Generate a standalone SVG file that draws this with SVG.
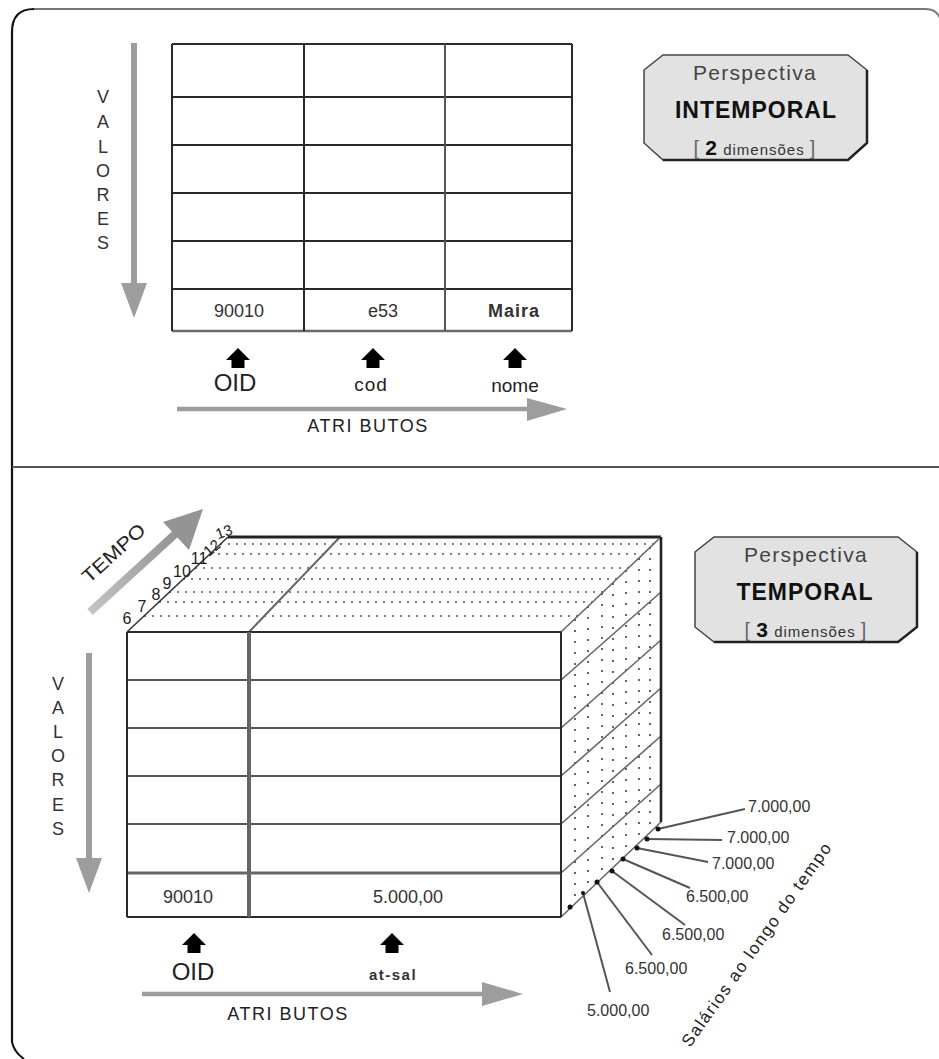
<svg xmlns="http://www.w3.org/2000/svg" width="939" height="1059" viewBox="0 0 939 1059">
  <defs>
    <style>
      text { font-family: "Liberation Sans", Arial, sans-serif; }
      .cell { font-size: 18px; fill: #333; text-anchor: middle; }
      .lbl { font-size: 19px; fill: #222; text-anchor: middle; }
      .axis { font-size: 18px; fill: #222; text-anchor: middle; }
      .vert { font-size: 18px; fill: #333; text-anchor: middle; }
      .grid { stroke: #2a2a2a; stroke-width: 2; fill: none; }
      .grid-g { stroke: #555; stroke-width: 2; fill: none; }
      .shaft { stroke: #9d9d9d; fill: none; }
      .head { fill: #9d9d9d; }
      .dot-h { stroke: #555; stroke-width: 1.6; stroke-dasharray: 2 6; fill: none; }
      .dot-v { stroke: #555; stroke-width: 1.8; stroke-dasharray: 2 9; fill: none; }
      .diag { stroke: #666; stroke-width: 1.6; fill: none; }
      .call { stroke: #555; stroke-width: 2; fill: none; }
      .num { font-size: 16px; fill: #333; }
      .digit { font-size: 16px; fill: #222; text-anchor: middle; }
      .badge { fill: #e2e2e2; stroke: #444; stroke-width: 1.5; }
      .badge-sh { fill: none; stroke: #222; stroke-width: 2.5; }
    </style>
    <linearGradient id="tempoGrad" x1="0" y1="1" x2="1" y2="0">
      <stop offset="0" stop-color="#c4c4c4"/>
      <stop offset="1" stop-color="#8f8f8f"/>
    </linearGradient>
    <!-- small solid up-pointing block arrow -->
    <path id="up" d="M0,0 L12,12 L6.5,12 L6.5,20 L-6.5,20 L-6.5,12 L-12,12 Z" fill="#000"/>
  </defs>

  <rect width="939" height="1059" fill="#fff"/>

  <!-- outer frame -->
  <g id="frame">
    <path d="M12,1042 L12,32 Q12,9 34,9" fill="none" stroke="#111" stroke-width="2.2"/>
    <path d="M34,9 L926,9 Q936,9 940,18" fill="none" stroke="#777" stroke-width="2"/>
    <path d="M12,1042 Q14,1052 24,1059" fill="none" stroke="#111" stroke-width="2"/>
    <line x1="12" y1="467" x2="939" y2="467" stroke="#555" stroke-width="1.8"/>
  </g>

  <!-- ===== upper panel: two-dimensional table ===== -->
  <g id="table2d">
    <rect x="172" y="44" width="400" height="287" fill="#fff"/>
    <line class="grid" x1="172" y1="44" x2="572" y2="44"/>
    <line class="grid" x1="172" y1="97" x2="572" y2="97"/>
    <line class="grid" x1="172" y1="145" x2="572" y2="145"/>
    <line class="grid" x1="172" y1="193" x2="572" y2="193"/>
    <line class="grid" x1="172" y1="241" x2="572" y2="241"/>
    <line class="grid" x1="172" y1="289" x2="572" y2="289"/>
    <line x1="172" y1="331" x2="572" y2="331" stroke="#6a6a6a" stroke-width="2.6"/>
    <line class="grid" x1="172" y1="44" x2="172" y2="331"/>
    <line class="grid" x1="304" y1="44" x2="304" y2="331"/>
    <line class="grid-g" x1="445" y1="44" x2="445" y2="331"/>
    <line class="grid" x1="572" y1="44" x2="572" y2="331"/>
    <text class="cell" x="239" y="317">90010</text>
    <text class="cell" x="383" y="317">e53</text>
    <text class="cell" x="514" y="317" style="letter-spacing:1px;font-weight:bold;fill:#333">Maira</text>
  </g>

  <g id="valores-top">
    <line class="shaft" x1="134" y1="43" x2="134" y2="290" stroke-width="6"/>
    <polygon class="head" points="121,283 147,283 134,318"/>
    <text class="vert" x="103" y="103">V</text>
    <text class="vert" x="103" y="128">A</text>
    <text class="vert" x="103" y="153">L</text>
    <text class="vert" x="103" y="177">O</text>
    <text class="vert" x="103" y="201">R</text>
    <text class="vert" x="103" y="225">E</text>
    <text class="vert" x="103" y="249">S</text>
  </g>

  <g id="attrs-top">
    <use href="#up" x="238" y="348"/>
    <use href="#up" x="373" y="348"/>
    <use href="#up" x="515" y="348"/>
    <text class="lbl" x="235" y="391" style="font-size:24px">OID</text>
    <text class="lbl" x="371" y="391" style="font-size:19px;letter-spacing:1px">cod</text>
    <text class="lbl" x="515" y="392" style="font-size:19px">nome</text>
    <line class="shaft" x1="177" y1="409" x2="535" y2="409" stroke-width="4.5"/>
    <polygon class="head" points="527,398 567,409 527,421"/>
    <text class="axis" x="368" y="432" style="letter-spacing:1.5px">ATRI BUTOS</text>
  </g>

  <g id="badge-intemporal">
    <polygon class="badge" points="663,55 848,55 867,70 867,143 848,160 663,160 644,143 644,70"/>
    <polyline class="badge-sh" points="867,70 867,143 848,160 663,160"/>
    <text x="755" y="80" text-anchor="middle" style="font-size:21px;fill:#444;letter-spacing:1.3px">Perspectiva</text>
    <text x="756" y="118" text-anchor="middle" style="font-size:23px;font-weight:bold;fill:#111;letter-spacing:1px">INTEMPORAL</text>
    <text x="755" y="155" text-anchor="middle" style="font-size:15px;fill:#333;letter-spacing:1px"><tspan style="font-size:20px;fill:#666">[</tspan> <tspan style="font-size:21px;font-weight:bold;fill:#111">2</tspan> dimensões <tspan style="font-size:20px;fill:#666">]</tspan></text>
  </g>

  <!-- ===== lower panel: three-dimensional block ===== -->
  <g id="block-top">
    <polygon points="127,632 228,537 661,537 561,632" fill="#fff"/>
    <line class="dot-h" x1="220" y1="544" x2="654" y2="544"/>
    <line class="dot-h" x1="210" y1="554" x2="643" y2="554"/>
    <line class="dot-h" x1="195" y1="568" x2="628" y2="568"/>
    <line class="dot-h" x1="183" y1="579" x2="617" y2="579"/>
    <line class="dot-h" x1="169" y1="592" x2="603" y2="592"/>
    <line class="dot-h" x1="159" y1="602" x2="593" y2="602"/>
    <line class="dot-h" x1="144" y1="616" x2="578" y2="616"/>
    <line x1="127" y1="632" x2="228" y2="537" stroke="#333" stroke-width="1.6"/>
    <line x1="249" y1="632" x2="340" y2="537" stroke="#666" stroke-width="2"/>
    <line x1="228" y1="537" x2="661" y2="537" stroke="#222" stroke-width="3"/>
  </g>

  <g id="block-side">
    <line class="dot-v" x1="575" y1="619" x2="575" y2="904"/>
    <line class="dot-v" x1="588" y1="606" x2="588" y2="891"/>
    <line class="dot-v" x1="602" y1="593" x2="602" y2="878"/>
    <line class="dot-v" x1="613" y1="583" x2="613" y2="868"/>
    <line class="dot-v" x1="626" y1="570" x2="626" y2="855"/>
    <line class="dot-v" x1="639" y1="558" x2="639" y2="843"/>
    <line class="dot-v" x1="650" y1="547" x2="650" y2="832"/>
    <line class="diag" x1="561" y1="632" x2="661" y2="537"/>
    <line class="diag" x1="561" y1="680" x2="661" y2="592"/>
    <line class="diag" x1="561" y1="728" x2="661" y2="640"/>
    <line class="diag" x1="561" y1="776" x2="661" y2="688"/>
    <line class="diag" x1="561" y1="824" x2="661" y2="736"/>
    <line class="diag" x1="561" y1="873" x2="661" y2="784"/>
    <line class="diag" x1="561" y1="917" x2="661" y2="822"/>
    <line x1="661" y1="537" x2="661" y2="822" stroke="#222" stroke-width="2.6"/>
  </g>

  <g id="block-front">
    <rect x="127" y="632" width="434" height="285" fill="#fff"/>
    <line class="grid" x1="127" y1="632" x2="561" y2="632"/>
    <line class="grid-g" x1="127" y1="680" x2="561" y2="680"/>
    <line class="grid-g" x1="127" y1="728" x2="561" y2="728"/>
    <line class="grid-g" x1="127" y1="776" x2="561" y2="776"/>
    <line class="grid-g" x1="127" y1="824" x2="561" y2="824"/>
    <line x1="127" y1="873" x2="561" y2="873" stroke="#666" stroke-width="3"/>
    <line class="grid" x1="127" y1="917" x2="561" y2="917"/>
    <line class="grid" x1="127" y1="632" x2="127" y2="917"/>
    <line x1="249" y1="632" x2="249" y2="917" stroke="#666" stroke-width="4"/>
    <line class="grid" x1="561" y1="632" x2="561" y2="917"/>
    <text class="cell" x="188" y="903">90010</text>
    <text class="cell" x="408" y="903">5.000,00</text>
  </g>

  <g id="tempo">
    <line x1="90" y1="612" x2="184" y2="526" stroke="url(#tempoGrad)" stroke-width="8"/>
    <polygon points="203,509 163,522 189,550" fill="#949494"/>
    <text x="118" y="558" transform="rotate(-42 118 558)" text-anchor="middle" textLength="78" lengthAdjust="spacingAndGlyphs" style="font-size:19px;fill:#222">TEMPO</text>
    <text class="digit" x="127" y="624">6</text>
    <text class="digit" x="142" y="612">7</text>
    <text class="digit" x="156" y="600">8</text>
    <text class="digit" x="167" y="589">9</text>
    <text class="digit" x="182" y="577">10</text>
    <text class="digit" x="199" y="564">11</text>
    <text class="digit" x="212" y="553" transform="rotate(-40 212 548)" style="font-size:15px">12</text>
    <text class="digit" x="224" y="537" transform="rotate(-20 224 532)" style="font-size:15px">13</text>
  </g>

  <g id="valores-bottom">
    <line class="shaft" x1="89" y1="653" x2="89" y2="866" stroke-width="6"/>
    <polygon class="head" points="76,858 102,858 89,893"/>
    <text class="vert" x="58" y="690">V</text>
    <text class="vert" x="58" y="714">A</text>
    <text class="vert" x="58" y="738">L</text>
    <text class="vert" x="58" y="762">O</text>
    <text class="vert" x="58" y="786">R</text>
    <text class="vert" x="58" y="811">E</text>
    <text class="vert" x="58" y="835">S</text>
  </g>

  <g id="attrs-bottom">
    <use href="#up" x="194" y="933"/>
    <use href="#up" x="392" y="933"/>
    <text class="lbl" x="193" y="980" style="font-size:24px">OID</text>
    <text class="lbl" x="393" y="980" style="font-size:15px;font-weight:bold;fill:#333;letter-spacing:1.5px">at-sal</text>
    <line class="shaft" x1="142" y1="994" x2="490" y2="994" stroke-width="4.5"/>
    <polygon class="head" points="482,982 523,994 482,1006"/>
    <text class="axis" x="288" y="1020" style="letter-spacing:1.5px">ATRI BUTOS</text>
  </g>

  <g id="badge-temporal">
    <polygon class="badge" points="714,537 898,537 917,552 917,627 898,642 714,642 695,627 695,552"/>
    <polyline class="badge-sh" points="917,552 917,627 898,642 714,642"/>
    <text x="806" y="562" text-anchor="middle" style="font-size:21px;fill:#444;letter-spacing:1.3px">Perspectiva</text>
    <text x="805" y="600" text-anchor="middle" style="font-size:23px;font-weight:bold;fill:#111;letter-spacing:1px">TEMPORAL</text>
    <text x="806" y="637" text-anchor="middle" style="font-size:15px;fill:#333;letter-spacing:1px"><tspan style="font-size:20px;fill:#666">[</tspan> <tspan style="font-size:21px;font-weight:bold;fill:#111">3</tspan> dimensões <tspan style="font-size:20px;fill:#666">]</tspan></text>
  </g>

  <!-- salary history callouts along the bottom time edge -->
  <g id="connectors">
    <line class="call" x1="658" y1="829" x2="745" y2="809"/>
    <line class="call" x1="647" y1="839" x2="722" y2="840"/>
    <line class="call" x1="637" y1="848" x2="708" y2="862"/>
    <line class="call" x1="623" y1="859" x2="690" y2="888"/>
    <line class="call" x1="612" y1="871" x2="685" y2="925"/>
    <line class="call" x1="597" y1="882" x2="652" y2="955"/>
    <line class="call" x1="583" y1="893" x2="610" y2="992"/>
    <g fill="#111">
      <circle cx="658" cy="829" r="2.5"/>
      <circle cx="647" cy="839" r="2.5"/>
      <circle cx="637" cy="848" r="2.5"/>
      <circle cx="623" cy="859" r="2.5"/>
      <circle cx="612" cy="871" r="2.5"/>
      <circle cx="597" cy="882" r="2.5"/>
      <circle cx="583" cy="893" r="2"/>
      <circle cx="570" cy="907" r="2.5"/>
    </g>
  </g>

  <g id="salarios">
    <text class="num" x="748" y="812">7.000,00</text>
    <text class="num" x="727" y="843">7.000,00</text>
    <text class="num" x="712" y="869">7.000,00</text>
    <text class="num" x="686" y="902">6.500,00</text>
    <text class="num" x="662" y="940">6.500,00</text>
    <text class="num" x="625" y="974">6.500,00</text>
    <text class="num" x="587" y="1016">5.000,00</text>
    <text x="690" y="1048" transform="rotate(-54.6 690 1048)" textLength="245" lengthAdjust="spacing" style="font-size:17px;fill:#222">Salários ao longo do tempo</text>
  </g>
</svg>
